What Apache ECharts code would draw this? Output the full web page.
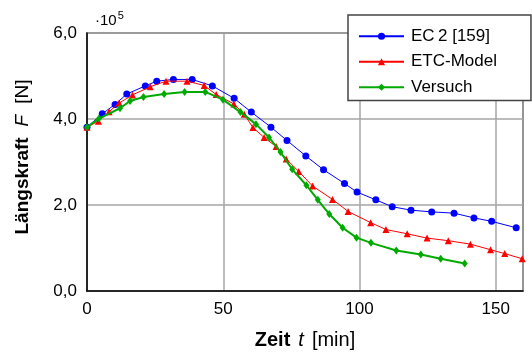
<!DOCTYPE html>
<html>
<head>
<meta charset="utf-8">
<script src="https://cdn.jsdelivr.net/npm/echarts@6/dist/echarts.min.js"></script>
<style>html,body{margin:0;padding:0;background:#fff}#c{width:532px;height:356px}</style>
</head>
<body>
<div id="c"></div>
<script>
// Values in units of 1e5 N, time in min
const seriesNames = ['EC\u20092 [159]', 'ETC-Model', 'Versuch'];
const ec2 = [[0,3.81],[5.6,4.12],[10.3,4.34],[14.6,4.58],[21.4,4.77],[25.6,4.88],[31.7,4.92],[38.6,4.92],[46,4.77],[54,4.48],[60.3,4.16],[67.5,3.81],[73.4,3.50],[80.3,3.14],[86.8,2.82],[94.5,2.50],[99.1,2.30],[106,2.12],[112,1.96],[118.9,1.88],[126.5,1.84],[134.7,1.81],[142,1.70],[148.5,1.62],[157.5,1.47]];
const etc = [[0,3.81],[4.2,3.95],[8.1,4.17],[11.8,4.37],[16.7,4.56],[23.2,4.75],[29,4.88],[36.7,4.88],[43,4.78],[47.4,4.57],[53.9,4.35],[57.7,4.11],[60.9,3.80],[65,3.57],[69.4,3.36],[73.1,3.07],[77.7,2.78],[82.8,2.44],[90.1,2.13],[95.8,1.85],[104.1,1.59],[109.7,1.43],[117.5,1.33],[124.8,1.23],[132.6,1.17],[140.7,1.09],[148.1,0.96],[153.3,0.87],[159.7,0.75]];
const versuch = [[0,3.81],[4.4,4.01],[12.1,4.25],[15.8,4.42],[20.7,4.51],[28.3,4.58],[35.8,4.63],[43.4,4.63],[49.9,4.45],[56.3,4.16],[62,3.88],[66.8,3.57],[71,3.23],[75.3,2.83],[80.5,2.46],[84.7,2.12],[88.9,1.79],[93.8,1.47],[98.9,1.24],[104.2,1.12],[113.5,0.94],[122.5,0.85],[129.8,0.75],[138.6,0.64]];
const xTicks = [0, 50, 100, 150];
const yTicks = [0, 2, 4, 6];

const FONT = "'Liberation Sans', Arial, Helvetica, sans-serif";
const chart = echarts.init(document.getElementById('c'), null, {renderer: 'canvas'});
chart.setOption({
  animation: false,
  backgroundColor: '#fff',
  textStyle: {fontFamily: FONT},
  grid: {left: 87, top: 33, right: 9, bottom: 65, show: true, borderColor: '#000', borderWidth: 1.2, backgroundColor: 'transparent'},
  xAxis: {
    type: 'value', min: 0, max: 160, interval: 50,
    axisLine: {show: true, lineStyle: {color: '#000', width: 1.5}},
    axisTick: {show: false},
    axisLabel: {margin: 10, fontSize: 17, color: '#000', fontFamily: FONT, showMaxLabel: false,
      formatter: v => xTicks.includes(v) ? String(v) : ''},
    splitLine: {show: true, lineStyle: {color: '#a6a6a6', width: 1.5}},
    name: '{b|Zeit}{s| }{i|t}{s| }{r|[min]}',
    nameLocation: 'middle', nameGap: 39,
    nameTextStyle: {
      rich: {
        b: {fontWeight: 'bold', fontSize: 20, color: '#000', fontFamily: FONT},
        i: {fontStyle: 'italic', fontSize: 20, color: '#000', fontFamily: FONT},
        r: {fontSize: 20, color: '#000', fontFamily: FONT},
        s: {fontSize: 20, width: 8, fontFamily: FONT}
      }
    }
  },
  yAxis: {
    type: 'value', min: 0, max: 6, interval: 2,
    axisLine: {show: true, lineStyle: {color: '#000', width: 1.5}},
    axisTick: {show: false},
    axisLabel: {margin: 10, fontSize: 17, color: '#000', fontFamily: FONT,
      formatter: v => yTicks.includes(v) ? v.toFixed(1).replace('.', ',') : ''},
    splitLine: {show: true, lineStyle: {color: '#a6a6a6', width: 1.5}}
  },
  legend: {
    orient: 'vertical', left: 348, top: 15,
    padding: [12, 34, 4, 10],
    itemWidth: 45, itemHeight: 9, itemGap: 7,
    backgroundColor: '#fff', borderColor: '#444', borderWidth: 1.5, borderRadius: 0,
    textStyle: {fontSize: 17, color: '#000', fontFamily: FONT, lineHeight: 18.5, padding: [0,0,0,2]},
    data: seriesNames
  },
  graphic: [
    {
      type: 'text', x: 23, y: 157, rotation: Math.PI / 2,
      style: {
        text: '{b|Längskraft}{s| }{i|F}{s| }{r|[N]}',
        textAlign: 'center', textVerticalAlign: 'middle',
        rich: {
          b: {fontWeight: 'bold', fontSize: 19, fill: '#000', fontFamily: FONT},
          i: {fontStyle: 'italic', fontSize: 19, fill: '#000', fontFamily: FONT},
          r: {fontSize: 19, fill: '#000', fontFamily: FONT},
          s: {fontSize: 19, width: 11, fontFamily: FONT}
        }
      }
    },
    {
      type: 'text', x: 95, y: 28,
      style: {
        text: '{m|·10}{p|5}',
        textAlign: 'left', textVerticalAlign: 'bottom',
        rich: {
          m: {fontSize: 15, fill: '#000', fontFamily: FONT, verticalAlign: 'bottom'},
          p: {fontSize: 11, fill: '#000', fontFamily: FONT, padding: [0, 0, 7, 1], verticalAlign: 'bottom'}
        }
      }
    }
  ],
  series: [
    {name: seriesNames[0], type: 'line', data: ec2, symbol: 'circle', symbolSize: 7,
      itemStyle: {color: '#0000ff'}, lineStyle: {color: '#0000ff', width: 1}, z: 3},
    {name: seriesNames[1], type: 'line', data: etc, symbol: 'triangle', symbolSize: 7,
      itemStyle: {color: '#ff0000'}, lineStyle: {color: '#ff0000', width: 1}, z: 4},
    {name: seriesNames[2], type: 'line', data: versuch, symbol: 'diamond', symbolSize: [6, 8],
      itemStyle: {color: '#00aa00'}, lineStyle: {color: '#00aa00', width: 2}, z: 5}
  ]
});
</script>
</body>
</html>
